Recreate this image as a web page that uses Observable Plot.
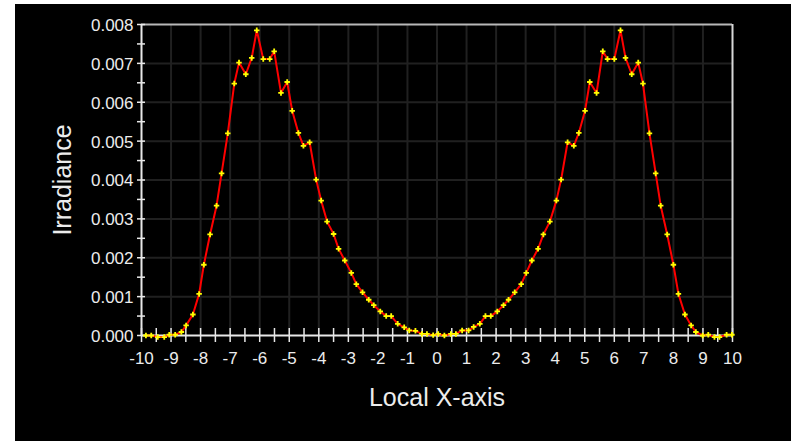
<!DOCTYPE html>
<html>
<head>
<meta charset="utf-8">
<script src="https://cdn.jsdelivr.net/npm/d3@7"></script>
<script src="https://cdn.jsdelivr.net/npm/@observablehq/plot@0.6"></script>
<style>
  html, body { margin: 0; padding: 0; background: #ffffff; }
  #wrap { width: 791px; height: 441px; background: #ffffff; overflow: hidden; }
  #chart { margin-left: 15px; padding-top: 4px; }
  #chart svg { display: block; background: #000000; }
</style>
</head>
<body>
<div id="wrap"><div id="chart"></div></div>
<script>
// Data
const xValues = [
  -9.85, -9.67, -9.45, -9.23, -9.06, -8.86, -8.65, -8.49, -8.26, -8.05,
  -7.89, -7.68, -7.46, -7.29, -7.08, -6.86, -6.70, -6.47, -6.27, -6.10,
  -5.88, -5.66, -5.51, -5.28, -5.07, -4.90, -4.69, -4.52, -4.31, -4.09,
  -3.92, -3.72, -3.50, -3.33, -3.12, -2.90, -2.73, -2.52, -2.31, -2.14,
  -1.92, -1.72, -1.55, -1.33, -1.11, -0.94, -0.73, -0.51, -0.34, -0.13,
  0.04, 0.25, 0.47, 0.64, 0.85, 1.07, 1.24, 1.45, 1.64, 1.82,
  2.04, 2.25, 2.42, 2.63, 2.85, 3.02, 3.21, 3.42, 3.60, 3.82,
  4.04, 4.20, 4.42, 4.63, 4.80, 5.01, 5.17, 5.40, 5.61, 5.77,
  6.00, 6.21, 6.38, 6.59, 6.81, 6.97, 7.19, 7.40, 7.57, 7.79,
  8.00, 8.17, 8.39, 8.60, 8.76, 8.99, 9.18, 9.39, 9.56, 9.80, 9.98
];
const irradiance = [
  0.00000, 0.00000, -0.00004, -0.00004, 0.00002, 0.00002, 0.00009, 0.00026, 0.00054, 0.00107,
  0.00182, 0.00260, 0.00334, 0.00417, 0.00520, 0.00648, 0.00702, 0.00672, 0.00714, 0.00785,
  0.00711, 0.00711, 0.00731, 0.00624, 0.00652, 0.00578, 0.00521, 0.00488, 0.00497, 0.00401,
  0.00347, 0.00293, 0.00261, 0.00223, 0.00193, 0.00161, 0.00132, 0.00111, 0.00092, 0.00078,
  0.00062, 0.00050, 0.00050, 0.00030, 0.00021, 0.00013, 0.00012, 0.00004, 0.00004, 0.00001,
  0.00004, 0.00000, 0.00004, 0.00004, 0.00013, 0.00013, 0.00022, 0.00030, 0.00050, 0.00050,
  0.00062, 0.00078, 0.00092, 0.00111, 0.00132, 0.00161, 0.00193, 0.00223, 0.00260, 0.00293,
  0.00347, 0.00401, 0.00497, 0.00488, 0.00521, 0.00578, 0.00652, 0.00624, 0.00731, 0.00711,
  0.00711, 0.00785, 0.00714, 0.00672, 0.00702, 0.00648, 0.00520, 0.00417, 0.00334, 0.00260,
  0.00182, 0.00107, 0.00054, 0.00026, 0.00009, 0.00000, 0.00002, -0.00004, -0.00004, 0.00002, 0.00002
];
const xTickValues = [-10, -9, -8, -7, -6, -5, -4, -3, -2, -1, 0, 1, 2, 3, 4, 5, 6, 7, 8, 9, 10];
const xTickLabels = ["-10", "-9", "-8", "-7", "-6", "-5", "-4", "-3", "-2", "-1", "0", "1", "2", "3", "4", "5", "6", "7", "8", "9", "10"];
const xMinorTicks = [-10, -9.5, -9, -8.5, -8, -7.5, -7, -6.5, -6, -5.5, -5, -4.5, -4, -3.5, -3, -2.5, -2, -1.5, -1, -0.5,
  0, 0.5, 1, 1.5, 2, 2.5, 3, 3.5, 4, 4.5, 5, 5.5, 6, 6.5, 7, 7.5, 8, 8.5, 9, 9.5, 10];
const yTickValues = [0, 0.001, 0.002, 0.003, 0.004, 0.005, 0.006, 0.007, 0.008];
const yTickLabels = ["0.000", "0.001", "0.002", "0.003", "0.004", "0.005", "0.006", "0.007", "0.008"];
const yMinorTicks = [0, 0.0005, 0.001, 0.0015, 0.002, 0.0025, 0.003, 0.0035, 0.004, 0.0045, 0.005, 0.0055, 0.006, 0.0065, 0.007, 0.0075, 0.008];
const xTitle = "Local X-axis";
const yTitle = "Irradiance";

const data = xValues.map((x, i) => ({x, y: irradiance[i]}));
const gridX = xTickValues.slice(1, -1);
const gridY = yTickValues.slice(1, -1);

const font = "'Liberation Sans', Arial, sans-serif";
const textColor = "#ececec";

const chart = Plot.plot({
  width: 776,
  height: 437,
  marginLeft: 126,
  marginRight: 59,
  marginTop: 20,
  marginBottom: 106,
  x: {domain: [-10, 10], axis: null},
  y: {domain: [0, 0.008], axis: null},
  style: {background: "#000000", fontFamily: font},
  marks: [
    Plot.ruleX(gridX, {x: d => d, stroke: "#202020", strokeWidth: 2}),
    Plot.ruleY(gridY, {y: d => d, stroke: "#202020", strokeWidth: 2}),
    Plot.ruleY([0.008], {y: d => d, stroke: "#b8b8b8", strokeWidth: 2}),
    Plot.ruleX([10], {x: d => d, stroke: "#d8d8d8", strokeWidth: 2}),
    Plot.ruleY([0], {y: d => d, stroke: "#e8e8e8", strokeWidth: 2}),
    Plot.ruleX([-10], {x: d => d, stroke: "#e8e8e8", strokeWidth: 2}),
    Plot.ruleX(xMinorTicks, {x: d => d, y1: () => 0, y2: () => 0, insetTop: -7, insetBottom: -7, stroke: "#e8e8e8", strokeWidth: 1.5}),
    Plot.ruleY(yMinorTicks, {y: d => d, x1: () => -10, x2: () => -10, insetLeft: -4, insetRight: -4, stroke: "#e8e8e8", strokeWidth: 1.5}),
    Plot.text(xTickValues, {x: d => d, frameAnchor: "bottom", lineAnchor: "middle", dy: 23, text: (d, i) => xTickLabels[i], fill: textColor, fontSize: 17, fontFamily: font}),
    Plot.text(yTickValues, {y: d => d, frameAnchor: "left", lineAnchor: "middle", dx: -8, dy: 1, textAnchor: "end", text: (d, i) => yTickLabels[i], fill: textColor, fontSize: 17, fontFamily: font}),
    Plot.text([yTitle], {frameAnchor: "left", textAnchor: "middle", lineAnchor: "middle", dx: -79, rotate: -90, text: d => d, fill: textColor, fontSize: 25, fontFamily: font}),
    Plot.text([xTitle], {frameAnchor: "bottom", textAnchor: "middle", lineAnchor: "middle", dy: 62, text: d => d, fill: textColor, fontSize: 25, fontFamily: font}),
    Plot.line(data, {x: "x", y: "y", stroke: "#ff0000", strokeWidth: 2}),
    Plot.dot(data, {x: "x", y: "y", symbol: "cross", fill: "#ffff00", stroke: "none", r: 2.3})
  ]
});
document.getElementById("chart").appendChild(chart);
</script>
</body>
</html>
